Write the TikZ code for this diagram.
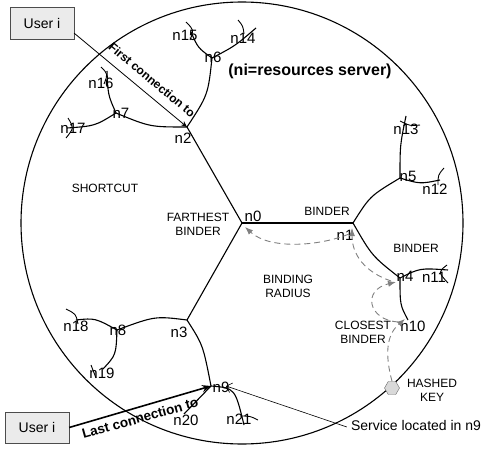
\documentclass[tikz,border=0pt]{standalone}
\usepackage{fontspec}
\setmainfont{Liberation Sans}
\usetikzlibrary{arrows.meta,shapes.geometric}
\begin{document}
\begin{tikzpicture}[x=1pt,y=-1pt,
  link/.style={line width=1.1pt},
  tickm/.style={line width=0.9pt},
  lbl/.style={inner sep=0pt,font=\fontsize{15}{15}\selectfont},
  caps/.style={inner sep=0pt,align=center,font=\fontsize{12}{14}\selectfont},
  dasharr/.style={draw=black!50,line width=0.9pt,dash pattern=on 6pt off 4pt,-{Latex[length=8pt,width=6pt]}},
  userbox/.style={draw=black!70,fill=black!8,minimum width=64pt,minimum height=32pt,inner sep=0pt,font=\fontsize{14}{14}\selectfont},
]
\useasboundingbox (0,0) rectangle (481,449);
% big circle
\node[circle,draw,line width=1.1pt,minimum size=442pt,inner sep=0pt,outer sep=0pt] (ring) at (242,223) {};
% junctions
\coordinate (n0) at (242,223);
\coordinate (n1) at (353,223);
\coordinate (n2) at (187,127);
\coordinate (n3) at (187,320);
\coordinate (n4) at (400,278);
\coordinate (n5) at (400,178);
\coordinate (n6) at (212,58);
\coordinate (n7) at (116,113);
\coordinate (n8) at (117,330);
\coordinate (n9) at (211,386);
% leaves
\coordinate (e10) at (408,320);
\coordinate (e11) at (448,270);
\coordinate (e12) at (440,180);
\coordinate (e13) at (406,116);
\coordinate (e14) at (256,28);
\coordinate (e15) at (191,32);
\coordinate (e16) at (107,71);
\coordinate (e17) at (67,128);
\coordinate (e18) at (76,320);
\coordinate (e19) at (103,369);
\coordinate (e20) at (184,414);
\coordinate (e21) at (244,425);
% edges
\draw[link] (n0) -- (n1);
\draw[link] (n0) -- (n2);
\draw[link] (n0) -- (n3);
\draw[link] (n1) .. controls (370,196) .. (n5);
\draw[link] (n1) .. controls (372,256) .. (n4);
\draw[link] (n4) .. controls (420,268) .. (e11);
\draw[link] (n4) .. controls (400,305) .. (e10);
\draw[link] (n5) .. controls (400,145) .. (e13);
\draw[link] (n5) .. controls (420,184) .. (e12);
\draw[link] (n2) .. controls (150,127) .. (n7);
\draw[link] (n7) .. controls (108,95) .. (e16);
\draw[link] (n7) .. controls (95,126) .. (e17);
\draw[link] (n2) .. controls (208,95) .. (n6);
\draw[link] (n6) .. controls (198,48) .. (e15);
\draw[link] (n6) .. controls (235,46) .. (e14);
\draw[link] (n3) .. controls (155,316) .. (n8);
\draw[link] (n8) .. controls (95,318) .. (e18);
\draw[link] (n8) .. controls (116,355) .. (e19);
\draw[link] (n3) .. controls (203,345) .. (n9);
\draw[link] (n9) -- (e20);
\draw[link] (n9) .. controls (235,388) .. (e21);
% tick marks
\draw[tickm] (186,22) .. controls (194,30) .. (190,40);
\draw[tickm] (238,20) .. controls (243,26) .. (244,34);
\draw[tickm] (101,67) .. controls (108,74) .. (104,84);
\draw[tickm] (68,118) .. controls (74,128) .. (66,138);
\draw[tickm] (400,121) .. controls (410,126) .. (420,125);
\draw[tickm] (444,168) .. controls (438,175) .. (438,185);
\draw[tickm] (447,265) .. controls (438,272) .. (448,283);
\draw[tickm] (66,309) .. controls (76,314) .. (78,324);
\draw[tickm] (91,365) -- (96,378);
\draw[tickm] (240,416) .. controls (250,416) .. (258,420);
% node labels
\node[lbl] (l0) at (253,216) {n0};
\node[lbl] (l1) at (345,235) {n1};
\node[lbl] (l2) at (183,138) {n2};
\node[lbl] (l3) at (179,332) {n3};
\node[lbl] (l4) at (405,276) {n4};
\node[lbl] (l5) at (408,176) {n5};
\node[lbl] (l6) at (213,57) {n6};
\node[lbl] (l7) at (121,113) {n7};
\node[lbl] (l8) at (118,330) {n8};
\node[lbl] (l9) at (221,387) {n9};
\node[lbl] (l10) at (413,326) {n10};
\node[lbl] (l11) at (434,277) {n11};
\node[lbl] (l12) at (435,189) {n12};
\node[lbl] (l13) at (406,129) {n13};
\node[lbl] (l14) at (243,38) {n14};
\node[lbl] (l15) at (185,35) {n15};
\node[lbl] (l16) at (101,83) {n16};
\node[lbl] (l17) at (73,128) {n17};
\node[lbl] (l18) at (76,326) {n18};
\node[lbl] (l19) at (102,373) {n19};
\node[lbl] (l20) at (186,420) {n20};
\node[lbl] (l21) at (239,419) {n21};
% region texts
\node[inner sep=0pt,font=\bfseries\fontsize{16}{16}\selectfont] (title) at (310,71) {(ni=resources server)};
\node[caps] (sc) at (105,188) {SHORTCUT};
\node[caps] (fb) at (198,224) {FARTHEST\\BINDER};
\node[caps] (b1) at (327,211) {BINDER};
\node[caps] (b2) at (416,248) {BINDER};
\node[caps] (br) at (288,286) {BINDING\\RADIUS};
\node[caps] (cb) at (363,332) {CLOSEST\\BINDER};
\node[caps] (hkt) at (432,390) {HASHED\\KEY};
% hashed key
\node[regular polygon,regular polygon sides=6,draw=black!60,fill=black!15,minimum size=15pt,inner sep=0pt] (hk) at (392,388) {};
% dashed lookup path
\coordinate (t10) at (405,319);
\coordinate (s10) at (398,322);
\coordinate (t4) at (396,282);
\coordinate (s4) at (391,281);
\coordinate (t1) at (352,228);
\coordinate (s1) at (349,234);
\coordinate (t0) at (245,227);
\draw[dasharr] (hk.north) .. controls (385,355) and (386,335) .. (t10);
\draw[dasharr] (s10) .. controls (368,320) and (362,290) .. (t4);
\draw[dasharr] (s4) .. controls (365,272) and (352,255) .. (t1);
\draw[dasharr] (s1) .. controls (320,246) and (270,250) .. (t0);
% users
\node[userbox] (u1) at (42,23) {User i};
\node[userbox,minimum height=31pt] (u2) at (37,427.5) {User i};
\draw[line width=0.8pt,-{Stealth[length=6pt,width=5pt]}] ([yshift=6pt]u1.south east) -- (n2);
\draw[line width=1.6pt,-{Stealth[length=9pt,width=7pt]}] (u2.east) -- (n9);
\node[inner sep=0pt,rotate=-39.8,font=\bfseries\fontsize{12}{12}\selectfont] (fc) at (152,80) {First connection to};
\node[inner sep=0pt,rotate=15.6,font=\bfseries\fontsize{13.5}{13.5}\selectfont] (lc) at (140,418) {Last connection to};
% service
\node[inner sep=0pt,font=\fontsize{14}{14}\selectfont] (svc) at (416,425) {Service located in n9};
\coordinate (sv) at (226,386);
\draw[line width=0.6pt,-{Straight Barb[length=5pt]}] ([xshift=-4pt,yshift=-2pt]svc.west) -- (sv);
\end{tikzpicture}
\end{document}
